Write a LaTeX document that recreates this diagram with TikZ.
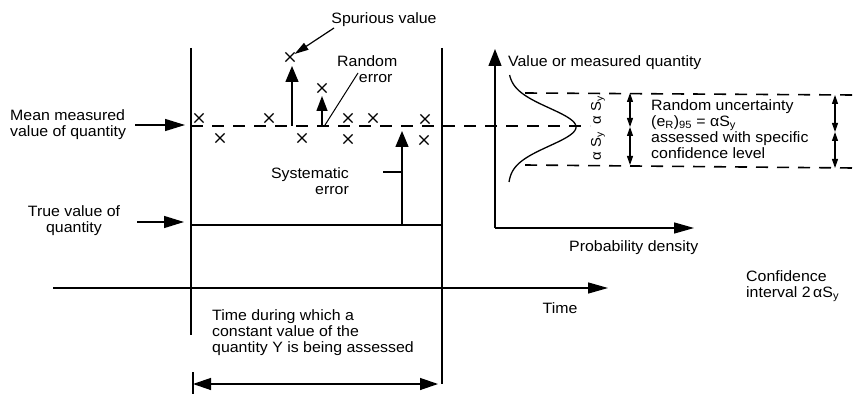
\documentclass[tikz,border=0pt]{standalone}
\usepackage{fontspec}
\setmainfont{Liberation Sans}[FakeStretch=1.06]
\usetikzlibrary{arrows.meta,shapes.misc}
\begin{document}
\begin{tikzpicture}[x=1pt,y=-1pt,
  lbl/.style={font=\fontsize{15}{16}\selectfont, inner sep=0pt},
  thin line/.style={line width=1.3pt},
  thick line/.style={line width=2.8pt},
  dash line/.style={line width=1.6pt, dash pattern=on 12pt off 9pt},
  big arrow/.style={line width=1.4pt, -{Triangle[length=16pt,width=13pt]}},
  mid arrow/.style={line width=1.4pt, -{Triangle[length=15pt,width=11pt]}},
  horiz arrow/.style={line width=1.4pt, -{Triangle[length=20pt,width=12pt]}},
  axis arrow/.style={line width=1.3pt, -{Triangle[length=20pt,width=11pt]}},
  small arrow/.style={line width=1.2pt, -{Triangle[length=14pt,width=8pt]}},
  tiny darrow/.style={line width=1.1pt, {Triangle[length=9pt,width=6pt]}-{Triangle[length=9pt,width=6pt]}},
  xmark/.style={cross out, draw, line width=1.2pt, minimum size=8pt, inner sep=0pt}
]
\useasboundingbox (0,0) rectangle (853,395);

% vertical boundaries
\coordinate (LT) at (191,48); \coordinate (LB) at (191,335);
\coordinate (RT) at (442,48); \coordinate (RB) at (442,384);
\draw[thick line] (LT) -- (LB);
\draw[thick line] (RT) -- (RB);

% mean dashed line
\coordinate (M0) at (191,126); \coordinate (M1) at (590,126);
\draw[dash line] (M0) -- (M1);

% true value line
\coordinate (T0) at (191,225); \coordinate (T1) at (442,225);
\draw[thin line] (T0) -- (T1);

% time axis
\coordinate (A0) at (53,288); \coordinate (A1) at (608,288);
\draw[axis arrow] (A0) -- (A1);

% bottom span arrow
\coordinate (S0) at (193,384); \coordinate (S1) at (438,384);
\coordinate (S0a) at (193,372); \coordinate (S0b) at (193,394);
\draw[thin line] (S0a) -- (S0b);
\draw[thin line, {Triangle[length=18pt,width=12pt]}-{Triangle[length=18pt,width=12pt]}] (S0) -- (S1);

% labels left
\node[lbl, anchor=west, align=left] (mean) at (10,125) {Mean measured\\value of quantity};
\coordinate (meanA) at (135,125); \coordinate (meanB) at (185,125);
\draw[horiz arrow] (meanA) -- (meanB);
\node[lbl, align=center] (true) at (74,221) {True value of\\quantity};
\coordinate (trueA) at (137,222); \coordinate (trueB) at (184,222);
\draw[horiz arrow] (trueA) -- (trueB);

% crosses
\node[xmark] (c1) at (199,118) {};
\node[xmark] (c2) at (220,138) {};
\node[xmark] (c3) at (269,118) {};
\node[xmark] (c4) at (290,57) {};
\node[xmark] (c5) at (302,138) {};
\node[xmark] (c6) at (322,88) {};
\node[xmark] (c7) at (348,118) {};
\node[xmark] (c8) at (348,139) {};
\node[xmark] (c9) at (373,118) {};
\node[xmark] (c10) at (425,119) {};
\node[xmark] (c11) at (424,140) {};

% spurious value
\node[lbl] (spur) at (384,20) {Spurious value};
\coordinate (spA) at (334,28);
\draw[small arrow] (spA) -- (c4);

% random error arrows
\coordinate (r1a) at (292,126); \coordinate (r1b) at (292,66);
\draw[big arrow] (r1a) -- (r1b);
\coordinate (r2a) at (322,126); \coordinate (r2b) at (322,96);
\draw[mid arrow] (r2a) -- (r2b);
\node[lbl, align=left, anchor=north west] (rand) at (337,55) {Random\\\hspace*{1.45em}error};
\coordinate (rlA) at (325,125); \coordinate (rlB) at (358,73);
\draw[line width=1pt] (rlA) -- (rlB);

% systematic error
\coordinate (sy0) at (402,225); \coordinate (sy1) at (402,131);
\draw[big arrow] (sy0) -- (sy1);
\node[lbl, align=right, anchor=east] (syst) at (349,181) {Systematic\\error};
\coordinate (slA) at (383,172); \coordinate (slB) at (402,172);
\draw[line width=1.2pt] (slA) -- (slB);

% time text
\node[lbl, anchor=west, align=left] (during) at (212,333) {Time during which a\\constant value of the\\quantity Y is being assessed};
\node[lbl] (time) at (560,308) {Time};

% probability density axes
\coordinate (P0) at (495,228); \coordinate (Pv) at (495,49); \coordinate (Ph) at (694,228);
\draw[thin line, -{Triangle[length=17pt,width=13pt]}] (P0) -- (Pv);
\draw[axis arrow] (P0) -- (Ph);
\node[lbl, anchor=west] (vmq) at (508,63) {Value or measured quantity};
\node[lbl, anchor=west] (pd) at (569,248) {Probability density};

% gaussian
\draw[line width=1.3pt] plot[domain=75:182, samples=80, smooth, variable=\t]
  ({508+68*exp(-((\t-127)/19)*((\t-127)/19)/2)}, \t);

% upper/lower dashed limits
\coordinate (U0) at (525,93); \coordinate (U1) at (853,95);
\coordinate (D0) at (525,165); \coordinate (D1) at (853,168);
\draw[dash line] (U0) -- (U1);
\draw[dash line] (D0) -- (D1);

% alpha S_y labels
\node[lbl, font=\fontsize{14}{15}\selectfont, rotate=90] (as1) at (598,110) {α S\textsubscript{y}};
\node[lbl, font=\fontsize{14}{15}\selectfont, rotate=90] (as2) at (598,146) {α S\textsubscript{y}};

% double arrows
\coordinate (da1) at (630,93); \coordinate (da2) at (630,127); \coordinate (da3) at (630,165);
\draw[tiny darrow] (da1) -- (da2);
\draw[tiny darrow] (da2) -- (da3);
\coordinate (db1) at (835,95); \coordinate (db2) at (835,132); \coordinate (db3) at (835,168);
\draw[tiny darrow] (db1) -- (db2);
\draw[tiny darrow] (db2) -- (db3);

% random uncertainty text
\node[lbl, anchor=west, align=left] (ru) at (651,129) {Random uncertainty\\(e\textsubscript{R})\textsubscript{95} = αS\textsubscript{y}\\assessed with specific\\confidence level};

% confidence interval
\node[lbl, anchor=west, align=left] (ci) at (746,286) {Confidence\\interval 2\,αS\textsubscript{y}};
\end{tikzpicture}
\end{document}
